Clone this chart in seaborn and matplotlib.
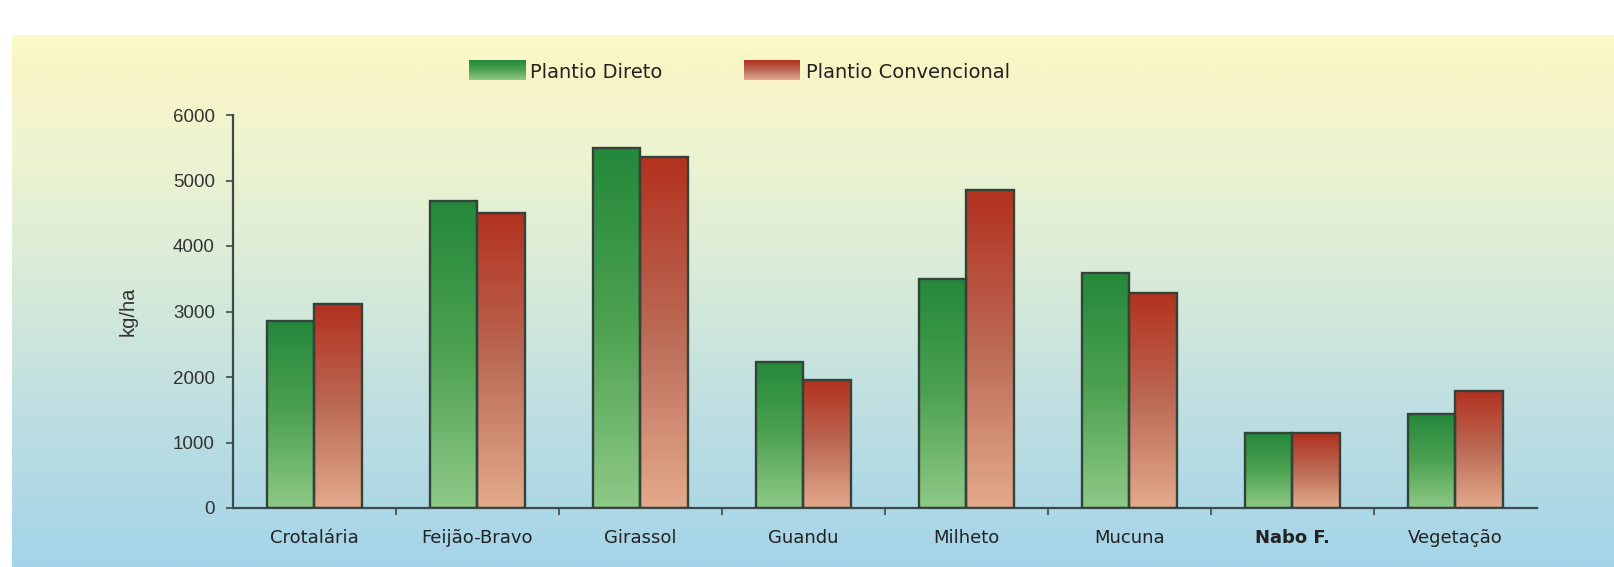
import numpy as np
import pandas as pd
import seaborn as sns
import matplotlib
matplotlib.use('Agg')
from matplotlib import pyplot as plt
from matplotlib.colors import LinearSegmentedColormap


culturas = ['Crotalária', 'Feijão-Bravo', 'Girassol', 'Guandu', 'Milheto', 'Mucuna', 'Nabo F.', 'Vegetação']
direto = [2850, 4680, 5500, 2230, 3490, 3590, 1140, 1430]
convencional = [3110, 4510, 5360, 1950, 4850, 3290, 1140, 1790]
series = ['Plantio Direto', 'Plantio Convencional']

# gradient colours: top -> bottom
grad_colors = {
    'Plantio Direto': ['#24883a', '#4ea252', '#8ec987'],
    'Plantio Convencional': ['#b3311f', '#bb6a55', '#e3aa8c'],
}

df = pd.DataFrame({
    'Cultura': culturas * 2,
    'Serie': [series[0]] * len(culturas) + [series[1]] * len(culturas),
    'kg/ha': direto + convencional,
})

sns.set_theme(style='white')
plt.rcParams['font.family'] = ['Liberation Sans', 'DejaVu Sans']

W, H = 1615, 567
fig = plt.figure(figsize=(W / 100, H / 100), dpi=100)
fig.patch.set_facecolor('white')

# background panel with vertical gradient
bg = fig.add_axes([12 / W, 0, 1 - 12 / W, (H - 35) / H], zorder=-10)
bg_cmap = LinearSegmentedColormap.from_list('bg', [
    (0.0, '#fafbc6'), (0.08, '#f8f3c6'), (0.2, '#eff5d0'),
    (0.45, '#d9ebd8'), (0.7, '#bfdfe1'), (1.0, '#a4d4e9')])
bg.imshow(np.linspace(0, 1, 256).reshape(-1, 1), cmap=bg_cmap, aspect='auto',
          extent=[0, 1, 0, 1], origin='upper')
bg.axis('off')

ax = fig.add_axes([233 / W, 1 - 508 / H, (1537 - 233) / W, (508 - 115) / H])
ax.set_facecolor('none')

sns.barplot(data=df, x='Cultura', y='kg/ha', hue='Serie', order=culturas, hue_order=series,
            width=0.58, gap=0, legend=False, ax=ax)

grad = np.linspace(0, 1, 128).reshape(-1, 1)
for container, name in zip(ax.containers, series):
    cmap = LinearSegmentedColormap.from_list(name, grad_colors[name])
    for bar in container:
        x, w, h = bar.get_x(), bar.get_width(), bar.get_height()
        bar.set_facecolor('none')
        bar.set_edgecolor('#34433a')
        bar.set_linewidth(1.7)
        bar.set_zorder(3)
        im = ax.imshow(grad, cmap=cmap, aspect='auto', extent=[x, x + w, 0, h],
                       origin='upper', zorder=2)
        im.set_clip_path(bar)

ax.set_xlim(-0.5, len(culturas) - 0.5)
ax.set_ylim(0, 6000)
ax.set_yticks([0, 1000, 2000, 3000, 4000, 5000, 6000])

for s in ['top', 'right']:
    ax.spines[s].set_visible(False)
for s in ['left', 'bottom']:
    ax.spines[s].set_color('#3b4b4b')
    ax.spines[s].set_linewidth(1.6)

ax.tick_params(axis='y', direction='out', length=5, width=1.2, color='#3b4b4b',
               labelsize=13.5, labelcolor='#333333', pad=8, left=True)
ax.set_xticks(range(len(culturas)))
ax.set_xticks(np.arange(0.5, len(culturas) - 0.5, 1), minor=True)
ax.tick_params(axis='x', which='major', length=0, labelsize=13, labelcolor='#222222', pad=15)
ax.tick_params(axis='x', which='minor', direction='out', length=5, width=1.2,
               color='#3b4b4b', bottom=True)
for lbl in ax.get_xticklabels():
    lbl.set_family(['DejaVu Sans'])
    if lbl.get_text() == 'Nabo F.':
        lbl.set_fontweight('bold')

ax.set_xlabel('')
ax.set_ylabel('kg/ha', fontsize=14.5, color='#333333')
ax.yaxis.set_label_coords(-0.073, 0.5)

# legend with gradient swatches
for name, x0, tx in [(series[0], 469, 530), (series[1], 744, 806)]:
    sw = fig.add_axes([x0 / W, 1 - 80 / H, 56 / W, 20 / H])
    cmap = LinearSegmentedColormap.from_list(name + '_leg', grad_colors[name])
    sw.imshow(grad, cmap=cmap, aspect='auto', extent=[0, 1, 0, 1], origin='upper')
    sw.axis('off')
    fig.text(tx / W, 1 - 72 / H, name, fontsize=14, color='#222222', va='center', ha='left',
             family=['DejaVu Sans'])

fig.savefig('out.png', dpi=100)
